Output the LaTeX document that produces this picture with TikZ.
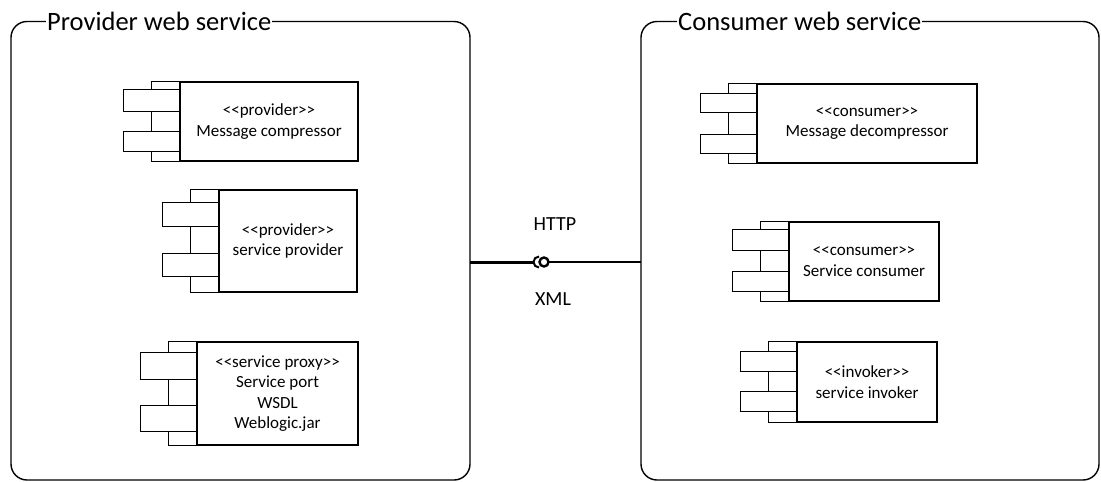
\documentclass[tikz,border=0pt]{standalone}
\usepackage{fontspec}
\setmainfont{Carlito}
\usetikzlibrary{calc}

\tikzset{
  pkgframe/.style={draw=black, line width=1.4pt, rounded corners=16pt},
  pkgtitle/.style={fill=white, inner xsep=1pt, inner ysep=0pt, anchor=west, font=\fontsize{26.5}{30}\selectfont},
  compbox/.style={draw=black, line width=1.4pt, fill=white, align=center,
    font=\fontsize{17}{20.5}\selectfont, inner sep=0pt},
  compline/.style={draw=black, line width=1.4pt, fill=white},
  wirelabel/.style={font=\fontsize{20}{24}\selectfont, inner sep=0pt},
}

% guillemet-free stereotype brackets
\newcommand{\stereo}[1]{{<}{<}#1{>}{>}}

% strip and two tabs to the left of a component box
% #1 box, #2 first tab offset, #3 first tab height, #4 second tab offset, #5 second tab height
\newcommand{\partdeco}[5]{%
  \draw[compline] ($(#1.north west)+(-28pt,0)$) rectangle (#1.south west);
  \draw[compline] ($(#1.north west)+(-56pt,-#2pt)$) rectangle ($(#1.north west)+(0,-#2pt-#3pt)$);
  \draw[compline] ($(#1.north west)+(-56pt,-#4pt)$) rectangle ($(#1.north west)+(0,-#4pt-#5pt)$);
}

\begin{document}
\begin{tikzpicture}[x=1pt, y=-1pt]
  \useasboundingbox (0,0) rectangle (1101,482);

  % packages
  \draw[pkgframe] (11,21.5) rectangle (470,480);
  \node[pkgtitle] (ptitle) at (46,21.5) {Provider web service};
  \coordinate (pedge) at (470,262);

  \draw[pkgframe] (641,21.5) rectangle (1099,480);
  \node[pkgtitle] (ctitle) at (677,21.5) {Consumer web service};
  \coordinate (cedge) at (641,262);

  % provider components
  \node[compbox, minimum width=178pt, minimum height=79pt] (c1) at (269,121.5)
    {\stereo{provider}\\Message compressor};
  \partdeco{c1}{8}{22}{50}{20}

  \node[compbox, minimum width=138pt, minimum height=102pt] (c2) at (288,241)
    {\stereo{provider}\\service provider};
  \partdeco{c2}{13}{24}{64}{23}

  \node[compbox, minimum width=161pt, minimum height=103pt] (c3) at (277.5,393.5)
    {\stereo{service proxy}\\Service port\\WSDL\\Weblogic.jar};
  \partdeco{c3}{11}{27}{64}{26}

  % consumer components
  \node[compbox, minimum width=220pt, minimum height=79pt] (c4) at (867,123.5)
    {\stereo{consumer}\\Message decompressor};
  \partdeco{c4}{10}{19}{51}{19}

  \node[compbox, minimum width=150pt, minimum height=79pt] (c5) at (864,261.5)
    {\stereo{consumer}\\Service consumer};
  \partdeco{c5}{8}{21}{50}{20}

  \node[compbox, minimum width=140pt, minimum height=80pt] (c6) at (867,382)
    {\stereo{invoker}\\service invoker};
  \partdeco{c6}{10}{20}{50}{20}

  % ball-and-socket connector between the packages
  \coordinate (sock) at (539,262);
  \coordinate (ball) at (544,262);
  \draw[line width=3pt] (pedge) -- ($(sock)+(-5pt,0)$);
  \draw[line width=2.4pt] ($(ball)+(4.5pt,0)$) -- (cedge);
  \draw[line width=2pt] ($(sock)+(0,5.5pt)$) arc[start angle=90, end angle=270, radius=5.5pt];
  \draw[line width=2.4pt, fill=white] (ball) circle[radius=4.5pt];

  \node[wirelabel] (http) at (555,224) {HTTP};
  \node[wirelabel] (xml) at (553,299) {XML};
\end{tikzpicture}
\end{document}
